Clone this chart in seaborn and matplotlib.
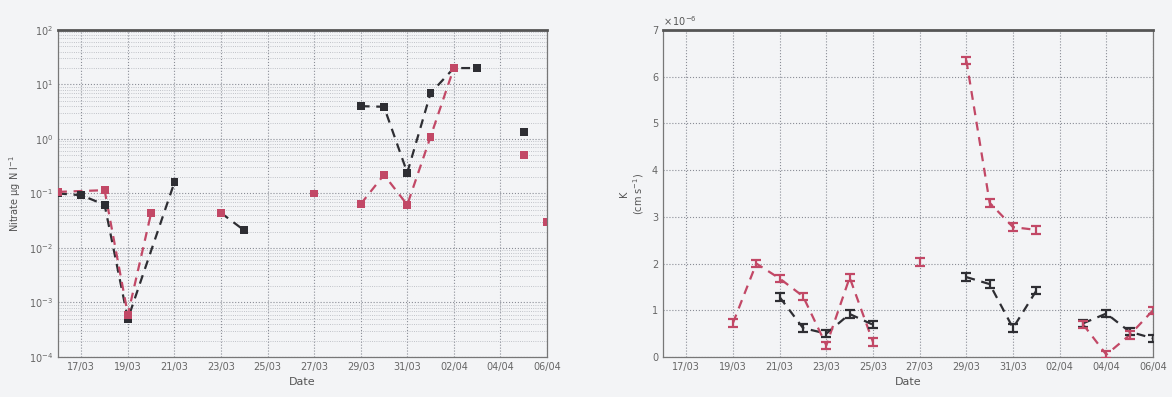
import numpy as np
import pandas as pd
import matplotlib
matplotlib.use("Agg")
import matplotlib.pyplot as plt
import seaborn as sns

# ---------------- data ----------------
tick_days = [17, 19, 21, 23, 25, 27, 29, 31, 33, 35, 37]
tick_labels = ["17/03", "19/03", "21/03", "23/03", "25/03", "27/03",
               "29/03", "31/03", "02/04", "04/04", "06/04"]

# left panel (log scale) ; segment ids separate broken lines
left_black_day = [16, 17, 18, 19, 21, 23, 24, 29, 30, 31, 32, 33, 34, 36]
left_black_val = [0.10, 0.093, 0.062, 0.0005, 0.16, 0.044, 0.021, 4.0, 3.9, 0.24, 6.9, 20.0, 20.0, 1.35]
left_black_seg = [0, 0, 0, 0, 0, 1, 1, 2, 2, 2, 2, 2, 2, 3]

left_red_day = [16, 18, 19, 20, 23, 27, 29, 30, 31, 32, 33, 36, 37]
left_red_val = [0.107, 0.115, 0.0006, 0.044, 0.044, 0.10, 0.064, 0.22, 0.062, 1.1, 20.0, 0.51, 0.03]
left_red_seg = [0, 0, 0, 0, 1, 2, 3, 3, 3, 3, 3, 4, 5]

# right panel (x 10^-6)
right_red_day = [19, 20, 21, 22, 23, 24, 25, 27, 29, 30, 31, 32, 34, 35, 36, 37]
right_red_val = [0.73, 2.0, 1.68, 1.3, 0.25, 1.7, 0.32, 2.03, 6.35, 3.3, 2.78, 2.72, 0.7, 0.05, 0.47, 1.0]
right_red_seg = [0, 0, 0, 0, 0, 0, 0, 1, 2, 2, 2, 2, 3, 3, 3, 3]

right_black_day = [21, 22, 23, 24, 25, 29, 30, 31, 32, 34, 35, 36, 37]
right_black_val = [1.28, 0.62, 0.5, 0.92, 0.69, 1.71, 1.56, 0.62, 1.42, 0.72, 0.93, 0.54, 0.4]
right_black_seg = [0, 0, 0, 0, 0, 1, 1, 1, 1, 2, 2, 2, 2]

# ---------------- style ----------------
sns.set_theme(style="white")
plt.rcParams['font.family'] = ['DejaVu Sans']
bg = "#f3f4f6"
black_c = "#2e2e33"
red_c = "#c24866"
palette = {"black": black_c, "red": red_c}

fig = plt.figure(figsize=(11.72, 3.97), dpi=100, facecolor=bg)
axL = fig.add_axes([0.0495, 0.1008, 0.4172, 0.8237], facecolor=bg)
axR = fig.add_axes([0.5657, 0.1008, 0.4181, 0.8237], facecolor=bg)


def frame(day, val, seg, name):
    return pd.DataFrame({"day": day, "val": val,
                         "seg": [f"{name}{s}" for s in seg], "serie": name})


dfL = pd.concat([frame(left_black_day, left_black_val, left_black_seg, "black"),
                 frame(left_red_day, left_red_val, left_red_seg, "red")])
dfR = pd.concat([frame(right_black_day, right_black_val, right_black_seg, "black"),
                 frame(right_red_day, right_red_val, right_red_seg, "red")])

# ---- left panel ----
sns.lineplot(data=dfL, x="day", y="val", hue="serie", units="seg", estimator=None,
             palette=palette, ax=axL, linestyle=(0, (4, 3)), linewidth=1.6,
             legend=False, sort=True)
sns.scatterplot(data=dfL, x="day", y="val", hue="serie", palette=palette, ax=axL,
                marker="s", s=32, edgecolor="none", legend=False, zorder=5)
axL.set_yscale("log")
axL.set_ylim(1e-4, 1e2)
axL.set_xlim(16, 37)
axL.set_yticks([1e-4, 1e-3, 1e-2, 1e-1, 1e0, 1e1, 1e2])
axL.set_xticks(tick_days)
axL.set_xticklabels(tick_labels)
axL.grid(True, which="major", linestyle=":", color="#8a8d96", linewidth=0.8)
axL.grid(True, which="minor", axis="y", linestyle=":", color="#b0b3ba", linewidth=0.6)
axL.set_xlabel("Date", fontsize=8, color="#555")
axL.set_ylabel("Nitrate µg N l$^{-1}$", fontsize=7, color="#555")

# ---- right panel ----
sns.lineplot(data=dfR, x="day", y="val", hue="serie", units="seg", estimator=None,
             palette=palette, ax=axR, linestyle=(0, (4, 3)), linewidth=1.6,
             legend=False, sort=True)
for name, g in dfR.groupby("serie"):
    axR.errorbar(g["day"], g["val"], yerr=0.08, fmt="none", ecolor=palette[name],
                 capsize=3.5, elinewidth=1.6, capthick=1.6, zorder=5)
axR.set_ylim(0, 7)
axR.set_xlim(16, 37)
axR.set_yticks(range(0, 8))
axR.set_xticks(tick_days)
axR.set_xticklabels(tick_labels)
axR.grid(True, which="major", linestyle=":", color="#8a8d96", linewidth=0.8)
axR.set_xlabel("Date", fontsize=8, color="#555")
axR.set_ylabel("K\n(cm s$^{-1}$)", fontsize=7, color="#555")
axR.text(0.0, 1.005, r"$\times\,10^{-6}$", transform=axR.transAxes, fontsize=7,
         color="#555", va="bottom", ha="left")

for ax in (axL, axR):
    ax.tick_params(axis="both", labelsize=7, colors="#666", direction="in",
                   length=3, which="both")
    for sp in ax.spines.values():
        sp.set_color("#777")
        sp.set_linewidth(0.9)
    ax.spines["top"].set_linewidth(2.0)
    ax.spines["top"].set_color("#555")

fig.savefig("out.png", dpi=100, facecolor=bg)
